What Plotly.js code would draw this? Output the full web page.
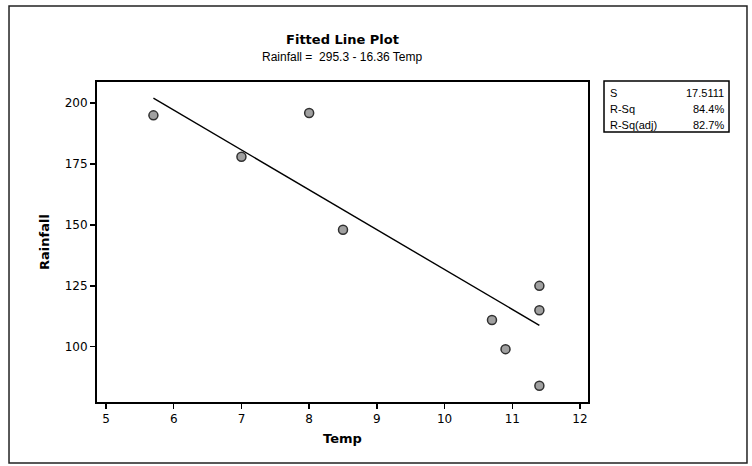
<!DOCTYPE html>
<html>
<head>
<meta charset="utf-8">
<script src="https://cdn.plot.ly/plotly-3.0.1.min.js"></script>
<style>
  html, body { margin: 0; padding: 0; background: #fff; }
  #chart { width: 752px; height: 466px; }
</style>
</head>
<body>
<div id="chart"></div>
<script>
// Observed data
const temp = [5.7, 7.0, 8.0, 8.5, 10.7, 10.9, 11.4, 11.4, 11.4];
const rainfall = [195, 178, 196, 148, 111, 99, 125, 115, 84];

// Fitted regression coefficients (from the chart subtitle)
const intercept = 295.3;
const slope = -16.36;

// Summary statistics box
const statLabels = ["S", "R-Sq", "R-Sq(adj)"];
const statValues = ["17.5111", "84.4%", "82.7%"];

// Axis ticks
const xTicks = [5, 6, 7, 8, 9, 10, 11, 12];
const yTicks = [100, 125, 150, 175, 200];

const xMin = Math.min(...temp), xMax = Math.max(...temp);
const fitX = [xMin, xMax];
const fitY = fitX.map(v => intercept + slope * v);

const FONT = "DejaVu Sans, Verdana, sans-serif";
const NARROW = "Liberation Sans, Arial, sans-serif";

const traces = [
  {
    x: fitX, y: fitY, type: "scatter", mode: "lines",
    line: { color: "#000", width: 1.4 },
    hoverinfo: "skip", showlegend: false
  },
  {
    x: temp, y: rainfall, type: "scatter", mode: "markers",
    marker: { size: 9, color: "#a0a0a0", line: { color: "#303030", width: 1.5 } },
    showlegend: false
  }
];

// Stats box layout
const boxX0 = 1.0326, boxX1 = 1.2872, boxY0 = 0.8438, boxY1 = 1.0031;
const rowY = [0.9656, 0.9156, 0.8656];
const annotations = [
  {
    text: "Rainfall = \u00a0295.3 - 16.36 Temp",
    xref: "paper", yref: "paper", x: 0.5, y: 1.078,
    xanchor: "center", yanchor: "middle", showarrow: false,
    font: { family: NARROW, size: 12, color: "#000" }
  }
];
statLabels.forEach((lab, i) => {
  annotations.push({
    text: lab, xref: "paper", yref: "paper", x: 1.0407, y: rowY[i],
    xanchor: "left", yanchor: "middle", showarrow: false,
    font: { family: NARROW, size: 11, color: "#000" }
  });
  annotations.push({
    text: statValues[i], xref: "paper", yref: "paper", x: 1.2811, y: rowY[i],
    xanchor: "right", yanchor: "middle", showarrow: false,
    font: { family: NARROW, size: 11, color: "#000" }
  });
});

const layout = {
  width: 752, height: 466,
  margin: { l: 97, r: 164, t: 82, b: 64 },
  paper_bgcolor: "#fff", plot_bgcolor: "#fff",
  font: { family: FONT, color: "#000" },
  title: {
    text: "<b>Fitted Line Plot</b>",
    x: 0.5, xref: "paper", xanchor: "center",
    y: 0.9163, yref: "container", yanchor: "middle",
    font: { family: FONT, size: 13, color: "#000" }
  },
  xaxis: {
    range: [4.867, 12.118],
    tickvals: xTicks, ticktext: xTicks.map(String),
    ticks: "outside", ticklen: 5, tickwidth: 1.5, tickcolor: "#000",
    showgrid: false, zeroline: false,
    showline: true, linecolor: "#000", linewidth: 2, mirror: true,
    tickfont: { family: FONT, size: 12, color: "#000" },
    title: { text: "<b>Temp</b>", font: { family: FONT, size: 13, color: "#000" }, standoff: 8 }
  },
  yaxis: {
    range: [77.3, 208.7],
    tickvals: yTicks, ticktext: yTicks.map(String),
    ticks: "outside", ticklen: 5, tickwidth: 1.5, tickcolor: "#000",
    showgrid: false, zeroline: false,
    showline: true, linecolor: "#000", linewidth: 2, mirror: true,
    tickfont: { family: FONT, size: 12, color: "#000" },
    title: { text: "<b>Rainfall</b>", font: { family: FONT, size: 13, color: "#000" }, standoff: 12 }
  },
  shapes: [
    { type: "rect", xref: "paper", yref: "paper", x0: -0.1792, x1: 1.3238, y0: -0.1906, y1: 1.2375,
      line: { color: "#222", width: 1.5 }, fillcolor: "rgba(0,0,0,0)", layer: "below" },
    { type: "rect", xref: "paper", yref: "paper", x0: boxX0, x1: boxX1, y0: boxY0, y1: boxY1,
      line: { color: "#000", width: 1.5 }, fillcolor: "rgba(0,0,0,0)" }
  ],
  annotations: annotations,
  showlegend: false
};

Plotly.newPlot("chart", traces, layout, { staticPlot: true, displayModeBar: false });
</script>
</body>
</html>
